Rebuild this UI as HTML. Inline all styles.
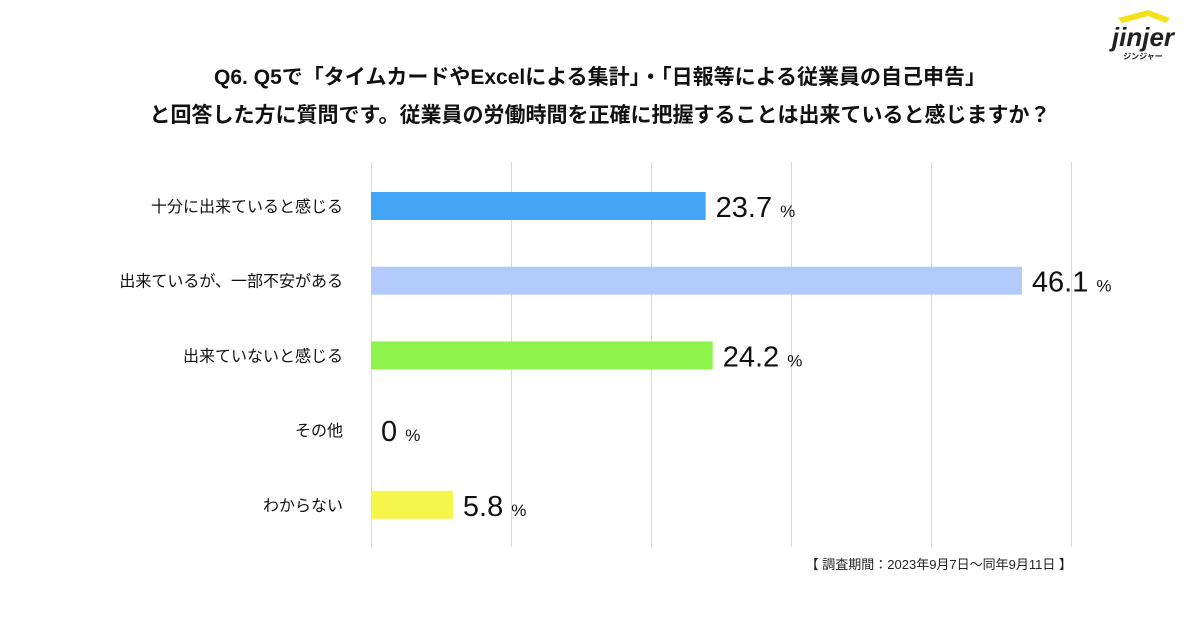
<!DOCTYPE html>
<html><head><meta charset="utf-8"><style>
body{margin:0;background:#fff;}
svg{display:block;font-family:"Liberation Sans","Noto Sans CJK JP",sans-serif;}
</style></head><body>
<svg id="c" width="1200" height="630">
<text x="600" y="84" text-anchor="middle" font-size="21" font-weight="bold" fill="#111">Q6. Q5で「タイムカードやExcelによる集計」・「日報等による従業員の自己申告」</text>
<text x="600" y="122" text-anchor="middle" font-size="21" font-weight="bold" fill="#111">と回答した方に質問です。従業員の労働時間を正確に把握することは出来ていると感じますか？</text>
<g>
<path d="M1118 18 L1148 10 L1170 18 L1166 23 L1148 16 L1122 23 Z" fill="#f5e11a"/>
<text x="1143" y="46" text-anchor="middle" font-size="26" font-weight="bold" font-style="italic" fill="#222">jinjer</text>
<text x="1143" y="59" text-anchor="middle" font-size="8" font-weight="bold" fill="#222">ジンジャー</text>
</g>
<g id="grid"></g><g id="bars"></g>
<text x="1072" y="569" text-anchor="end" font-size="13" fill="#222">【 調査期間：2023年9月7日〜同年9月11日 】</text>
</svg>
<script>
const categories=["十分に出来ていると感じる","出来ているが、一部不安がある","出来ていないと感じる","その他","わからない"];
const values=[23.7,46.1,24.2,0,5.8];
const colors=["#42a5f5","#b3cafc","#8ef34a","#ffffff","#f6f54a"];
const ticks=[0,10,20,30,40,50];
const NS="http://www.w3.org/2000/svg";
const x0=371,pxPer=14.12,gridPer=14.0,top0=192,step=74.7,bh=28;
const xs=v=>x0+v*pxPer;
const xg=v=>x0+v*gridPer;
function mk(t,a,p){const e=document.createElementNS(NS,t);for(const k in a)e.setAttribute(k,a[k]);p.appendChild(e);return e;}
const g=document.getElementById('grid'),b=document.getElementById('bars');
ticks.forEach(t=>{const l=mk('line',{x1:Math.round(xg(t))+0.5,x2:Math.round(xg(t))+0.5,y1:162,y2:547,stroke:'#d9d9d9','stroke-width':1},g);

});
categories.forEach((c,i)=>{const y=top0+i*step;
const lb=mk('text',{x:343,y:y+bh/2+6,'text-anchor':'end','font-size':16,fill:'#111'},b);lb.textContent=c;


if(values[i]>0){const r=mk('rect',{x:x0,y:y,width:values[i]*pxPer,height:bh,fill:colors[i]},b);

}
const t=mk('text',{x:xs(values[i])+10,y:y+bh/2+11,'font-size':29,fill:'#111'},b);


t.textContent=values[i]+' ';const s=mk('tspan',{'font-size':17},t);s.textContent='%';});
</script>
</body></html>
